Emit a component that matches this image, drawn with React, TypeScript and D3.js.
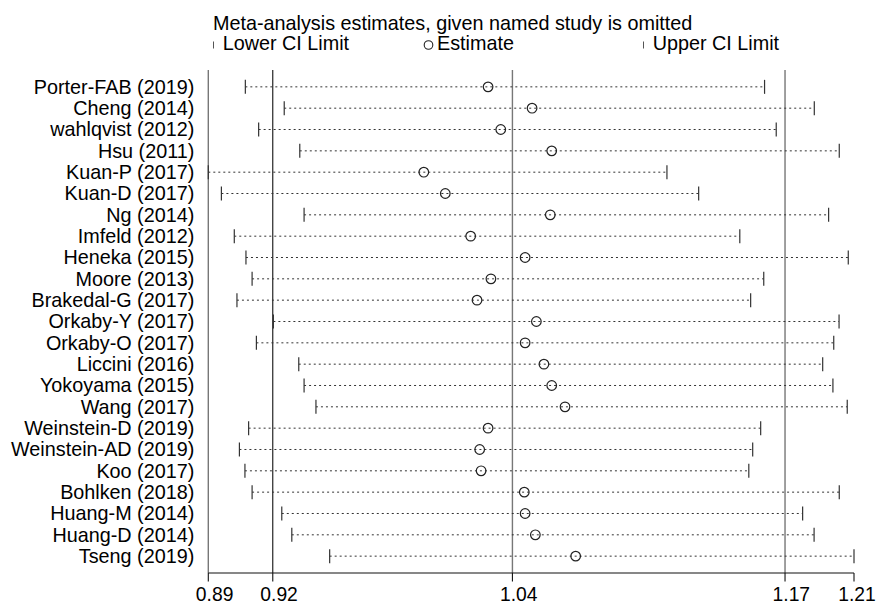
import React, { useEffect, useRef } from 'react';
import * as d3 from 'd3';

// studies, top to bottom
const studies = [
  'Porter-FAB (2019)', 'Cheng (2014)', 'wahlqvist (2012)', 'Hsu (2011)',
  'Kuan-P (2017)', 'Kuan-D (2017)', 'Ng (2014)', 'Imfeld (2012)',
  'Heneka (2015)', 'Moore (2013)', 'Brakedal-G (2017)', 'Orkaby-Y (2017)',
  'Orkaby-O (2017)', 'Liccini (2016)', 'Yokoyama (2015)', 'Wang (2017)',
  'Weinstein-D (2019)', 'Weinstein-AD (2019)', 'Koo (2017)', 'Bohlken (2018)',
  'Huang-M (2014)', 'Huang-D (2014)', 'Tseng (2019)',
];

const lowerCI = [
  0.9096, 0.9286, 0.9161, 0.9362, 0.8915, 0.8979, 0.9383, 0.9042,
  0.9099, 0.9129, 0.9055, 0.9233, 0.9150, 0.9357, 0.9383, 0.9441,
  0.9112, 0.9067, 0.9094, 0.9129, 0.9274, 0.9323, 0.9508,
];

const estimates = [
  1.0282, 1.0497, 1.0344, 1.0593, 0.9968, 1.0073, 1.0586, 1.0197,
  1.0463, 1.0296, 1.0228, 1.0518, 1.0463, 1.0555, 1.0593, 1.0658,
  1.0282, 1.0241, 1.0248, 1.0459, 1.0463, 1.0513, 1.0710,
];

const upperCI = [
  1.1633, 1.1876, 1.1690, 1.1998, 1.1156, 1.1311, 1.1946, 1.1512,
  1.2042, 1.1629, 1.1565, 1.1997, 1.1971, 1.1917, 1.1967, 1.2037,
  1.1614, 1.1575, 1.1556, 1.1998, 1.1819, 1.1875, 1.2070,
];

// min lower, overall lower, overall estimate, overall upper, max upper
const tickValues = [0.8915, 0.9230, 1.0401, 1.1733, 1.2070];
const tickLabels = ['0.89', '0.92', '1.04', '1.17', '1.21'];

const FONT = '"Liberation Sans", Arial, Helvetica, sans-serif';

export default function App() {
  const node = useRef<SVGSVGElement | null>(null);

  useEffect(() => {
    const svg = d3.select(node.current);
    svg.selectAll('*').remove();

    const plot = { left: 208.3, right: 854, top: 70, bottom: 573 };

    const x = d3.scaleLinear()
      .domain([tickValues[0], tickValues[tickValues.length - 1]])
      .range([plot.left, plot.right]);

    const y = d3.scalePoint<string>()
      .domain(studies)
      .range([plot.top, plot.bottom])
      .padding(0.79);

    const rows = studies.map((s, i) => ({
      name: s, lo: lowerCI[i], est: estimates[i], hi: upperCI[i],
    }));

    // title + legend
    svg.append('text')
      .attr('x', 213).attr('y', 29.5)
      .attr('font-family', FONT).attr('font-size', 19.8)
      .text('Meta-analysis estimates, given named study is omitted');

    const leg = svg.append('g')
      .attr('font-family', FONT).attr('font-size', 19.8);
    leg.append('line').attr('x1', 213.5).attr('x2', 213.5).attr('y1', 41.5).attr('y2', 48.5)
      .attr('stroke', '#555').attr('stroke-width', 1);
    leg.append('text').attr('x', 222.7).attr('y', 50).text('Lower CI Limit');
    leg.append('circle').attr('cx', 428.5).attr('cy', 45).attr('r', 4.3)
      .attr('fill', 'none').attr('stroke', '#222').attr('stroke-width', 1.1);
    leg.append('text').attr('x', 437).attr('y', 50).text('Estimate');
    leg.append('line').attr('x1', 643.5).attr('x2', 643.5).attr('y1', 41.5).attr('y2', 48.5)
      .attr('stroke', '#555').attr('stroke-width', 1);
    leg.append('text').attr('x', 652.7).attr('y', 50).text('Upper CI Limit');

    // left axis line
    svg.append('line')
      .attr('x1', plot.left).attr('x2', plot.left)
      .attr('y1', plot.top).attr('y2', plot.bottom)
      .attr('stroke', '#777').attr('stroke-width', 1.4);

    // reference lines at overall lower, estimate, upper
    const refLines = tickValues.slice(1, 4);
    svg.selectAll('.refline')
      .data(refLines)
      .enter().append('line')
      .attr('class', 'refline')
      .attr('x1', (d) => x(d)).attr('x2', (d) => x(d))
      .attr('y1', plot.top).attr('y2', plot.bottom)
      .attr('stroke', (d, i) => (i === 0 ? '#111' : '#777'))
      .attr('stroke-width', (d, i) => (i === 0 ? 1.1 : 1.4));

    // bottom axis
    svg.append('line')
      .attr('x1', plot.left).attr('x2', plot.right)
      .attr('y1', plot.bottom).attr('y2', plot.bottom)
      .attr('stroke', '#111').attr('stroke-width', 1.1);

    svg.selectAll('.xtick')
      .data(tickValues)
      .enter().append('line')
      .attr('class', 'xtick')
      .attr('x1', (d) => x(d)).attr('x2', (d) => x(d))
      .attr('y1', plot.bottom).attr('y2', plot.bottom + 8.5)
      .attr('stroke', '#111').attr('stroke-width', 1.1);

    svg.selectAll('.xlabel')
      .data(tickValues)
      .enter().append('text')
      .attr('class', 'xlabel')
      .attr('x', (d) => Math.min(x(d) + 6.3, 857))
      .attr('y', 601)
      .attr('text-anchor', 'middle')
      .attr('font-family', FONT).attr('font-size', 19.3)
      .text((d, i) => tickLabels[i]);

    // study labels
    svg.selectAll('.ylabel')
      .data(rows)
      .enter().append('text')
      .attr('class', 'ylabel')
      .attr('x', 194.3)
      .attr('y', (d) => (y(d.name) as number) + 6.7)
      .attr('text-anchor', 'end')
      .attr('font-family', FONT).attr('font-size', 19.8)
      .text((d) => d.name);

    // CI rows
    const g = svg.selectAll('.study')
      .data(rows)
      .enter().append('g')
      .attr('class', 'study');

    g.append('line')
      .attr('x1', (d) => x(d.lo)).attr('x2', (d) => x(d.hi))
      .attr('y1', (d) => y(d.name) as number).attr('y2', (d) => y(d.name) as number)
      .attr('stroke', '#333').attr('stroke-width', 1)
      .attr('stroke-dasharray', '2,3');

    g.append('line')
      .attr('x1', (d) => x(d.lo)).attr('x2', (d) => x(d.lo))
      .attr('y1', (d) => (y(d.name) as number) - 7).attr('y2', (d) => (y(d.name) as number) + 7)
      .attr('stroke', '#333').attr('stroke-width', 1.2);

    g.append('line')
      .attr('x1', (d) => x(d.hi)).attr('x2', (d) => x(d.hi))
      .attr('y1', (d) => (y(d.name) as number) - 7).attr('y2', (d) => (y(d.name) as number) + 7)
      .attr('stroke', '#333').attr('stroke-width', 1.2);

    g.append('circle')
      .attr('cx', (d) => x(d.est))
      .attr('cy', (d) => y(d.name) as number)
      .attr('r', 4.8)
      .attr('fill', 'none')
      .attr('stroke', '#222').attr('stroke-width', 1.2);
  }, []);

  return (
    <svg ref={node} width={878} height={605}
      style={{ position: 'absolute', left: 0, top: 0, background: '#fff' }} />
  );
}
